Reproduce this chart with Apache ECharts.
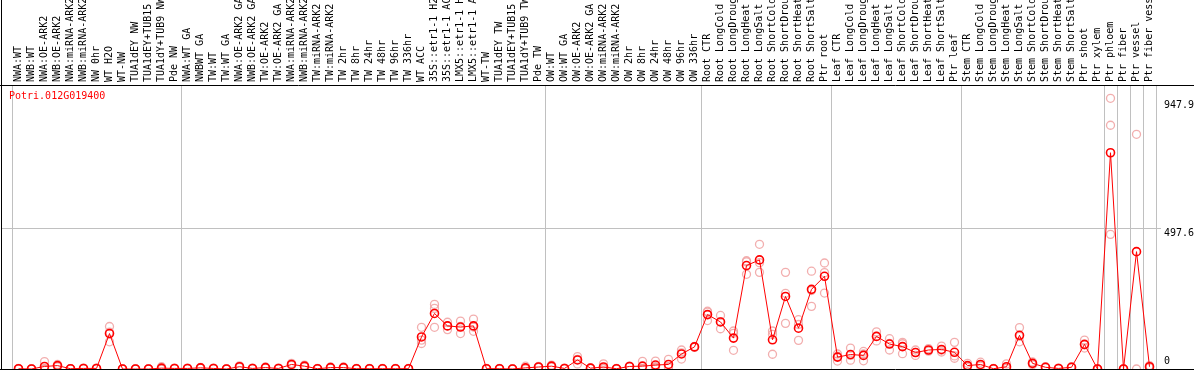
<!DOCTYPE html>
<html><head><meta charset="utf-8">
<script src="https://cdn.jsdelivr.net/npm/echarts@6/dist/echarts.min.js"></script>
<style>html,body{margin:0;padding:0;background:#fff;overflow:hidden}#c{width:1194px;height:370px}</style>
</head><body><div id="c"></div>
<script>
const chartTitle = 'Potri.012G019400';
const categories = [
'NWA:WT','NWB:WT','NWA:OE-ARK2','NWB:OE-ARK2','NWA:miRNA-ARK2','NWB:miRNA-ARK2','NW 0hr','WT H2O','WT-NW','TUA1dEY NW','TUA1dEY+TUB15 NW','TUA1dY+TUB9 NW','Pde NW',
'NWA:WT GA','NWBWT GA','TW:WT','TW:WT GA','NWA:OE-ARK2 GA','NWB:OE-ARK2 GA','TW:OE-ARK2','TW:OE-ARK2 GA','NWA:miRNA-ARK2 GA','NWB:miRNA-ARK2 GA','TW:miRNA-ARK2','TW:miRNA-ARK2 GA',
'TW 2hr','TW 8hr','TW 24hr','TW 48hr','TW 96hr','TW 336hr','WT ACC','35S::etr1-1 H2O','35S::etr1-1 ACC','LMX5::etr1-1 H2O','LMX5::etr1-1 ACC','WT-TW','TUA1dEY TW','TUA1dEY+TUB15 TW','TUA1dY+TUB9 TW','Pde TW',
'OW:WT','OW:WT GA','OW:OE-ARK2','OW:OE-ARK2 GA','OW:miRNA-ARK2','OW:miRNA-ARK2 GA','OW 2hr','OW 8hr','OW 24hr','OW 48hr','OW 96hr','OW 336hr',
'Root CTR','Root LongCold','Root LongDrought','Root LongHeat','Root LongSalt','Root ShortCold','Root ShortDrought','Root ShortHeat','Root ShortSalt','Ptr root',
'Leaf CTR','Leaf LongCold','Leaf LongDrought','Leaf LongHeat','Leaf LongSalt','Leaf ShortCold','Leaf ShortDrought','Leaf ShortHeat','Leaf ShortSalt','Ptr leaf',
'Stem CTR','Stem LongCold','Stem LongDrought','Stem LongHeat','Stem LongSalt','Stem ShortCold','Stem ShortDrought','Stem ShortHeat','Stem ShortSalt','Ptr shoot','Ptr xylem',
'Ptr phloem','Ptr fiber','Ptr vessel','Ptr fiber vessel'];
const means = [1,0,9,12,1,2,2,125,0,0,0,3,2,
2,4,2,0,8,2,5,2,16,10,1,5,
5,1,1,1,1,1,113,196,152,148,152,1,1,0,4,7,
10,2,32,3,7,1,9,10,14,16,53,78,
192,166,109,365,385,103,256,144,281,327,
42,51,48,115,88,79,58,67,69,59,
12,16,1,8,119,20,6,2,6,87,0,
763,0,414,8];
const rep1 = [2,0,26,16,1,3,3,150,1,0,0,8,3,
3,6,3,0,11,3,7,3,20,14,2,7,
7,2,2,2,2,2,147,228,165,169,176,2,2,1,10,9,
14,3,44,4,18,2,10,27,28,34,67,80,
201,189,134,382,440,134,341,174,345,374,
53,74,62,131,107,94,67,72,81,94,
20,24,2,18,146,25,8,3,8,102,0,
955,0,828,12];
const rep2 = [1,1,1,10,1,2,1,130,0,0,1,0,2,
2,3,2,0,7,2,5,2,15,8,1,5,
5,1,1,1,1,1,102,214,152,150,148,1,1,0,2,6,
9,2,34,3,2,1,9,2,8,8,57,78,
204,167,126,378,375,122,267,157,277,340,
45,48,53,115,90,89,59,66,66,46,
10,14,1,4,115,20,6,2,6,85,0,
860,0,0,8];
const rep3 = [0,0,0,8,0,1,2,96,0,0,0,0,1,
1,3,1,0,6,1,3,1,13,8,0,3,
3,0,0,0,0,0,90,147,139,125,133,0,0,0,0,6,
7,1,18,2,1,0,8,1,6,6,35,76,
171,142,66,334,341,52,161,101,221,268,
28,31,29,99,67,54,48,63,60,38,
6,10,0,2,96,15,4,1,4,74,0,
475,0,null,4];
const groupStarts = [0,13,41,53,63,73,84,85,86,87];
const yTickLabels = [497.6, 947.9];
const yZeroLabel = [0];
const yMax = 1002;

const FONT = 'DejaVu Sans Mono';
const repData = [];
[rep1, rep2, rep3].forEach(r => r.forEach((v, i) => { if (v !== null) repData.push([i, v]); }));
const isGroupStart = (idx) => groupStarts.indexOf(idx) >= 0;

const chart = echarts.init(document.getElementById('c'), null, {renderer: 'canvas'});
chart.setOption({
  animation: false,
  backgroundColor: '#fff',
  title: {text: chartTitle, left: 9, top: 91, padding: 0,
    textStyle: {fontFamily: FONT, fontSize: 10, fontWeight: 'normal', color: '#ff0000'}},
  grid: {left: 12, right: 38, top: 85, bottom: 1, containLabel: false, outerBoundsMode: 'none'},
  xAxis: {
    type: 'category', position: 'top', data: categories, boundaryGap: true,
    axisLine: {show: false},
    axisTick: {show: true, interval: isGroupStart, length: 85, inside: false,
      lineStyle: {color: '#c0c0c0', width: 1}},
    splitLine: {show: true, interval: isGroupStart, lineStyle: {color: '#c0c0c0', width: 1}},
    axisLabel: {interval: 0, rotate: 90, margin: 3, fontFamily: FONT, fontSize: 10, color: '#000', hideOverlap: false}
  },
  yAxis: [
    {type: 'value', position: 'right', min: 0, max: yMax,
      axisLine: {show: false}, axisTick: {show: false}, splitLine: {show: false},
      axisLabel: {customValues: yTickLabels, margin: 8, align: 'left', verticalAlign: 'top',
        fontFamily: FONT, fontSize: 10, color: '#000', showMinLabel: true, showMaxLabel: true}},
    {type: 'value', position: 'right', min: 0, max: yMax,
      axisLine: {show: false}, axisTick: {show: false}, splitLine: {show: false},
      axisLabel: {customValues: yZeroLabel, margin: 8, align: 'left', verticalAlign: 'bottom',
        padding: [0,0,3,0], fontFamily: FONT, fontSize: 10, color: '#000', showMinLabel: true}}
  ],
  series: [
    {type: 'scatter', data: repData, symbol: 'circle', symbolSize: 8, z: 2,
      itemStyle: {color: 'rgba(0,0,0,0)', borderColor: '#ef9a9a', borderWidth: 1.3}},
    {type: 'line', data: means, symbol: 'circle', symbolSize: 8, showAllSymbol: true, z: 3,
      lineStyle: {color: '#ff0000', width: 1},
      itemStyle: {color: 'rgba(0,0,0,0)', borderColor: '#ff0000', borderWidth: 1.6}}
  ]
});

const yMid = Math.round(chart.convertToPixel({yAxisIndex: 0}, yTickLabels[0])) + 0.5;
const yTop = Math.round(chart.convertToPixel({yAxisIndex: 0}, yMax)) + 0.5;
const yBot = Math.round(chart.convertToPixel({yAxisIndex: 0}, 0)) + 0.5;
chart.setOption({graphic: [
  {type: 'line', z: 0, shape: {x1: 1, y1: yMid, x2: 1161, y2: yMid}, style: {stroke: '#c0c0c0', lineWidth: 1}},
  {type: 'line', z: 10, shape: {x1: 0, y1: yTop, x2: 1194, y2: yTop}, style: {stroke: '#000', lineWidth: 1}},
  {type: 'line', z: 10, shape: {x1: 0, y1: yBot, x2: 1194, y2: yBot}, style: {stroke: '#000', lineWidth: 1}},
  {type: 'line', z: 10, shape: {x1: 1.5, y1: 0, x2: 1.5, y2: yBot}, style: {stroke: '#000', lineWidth: 1}}
]});
</script></body></html>
